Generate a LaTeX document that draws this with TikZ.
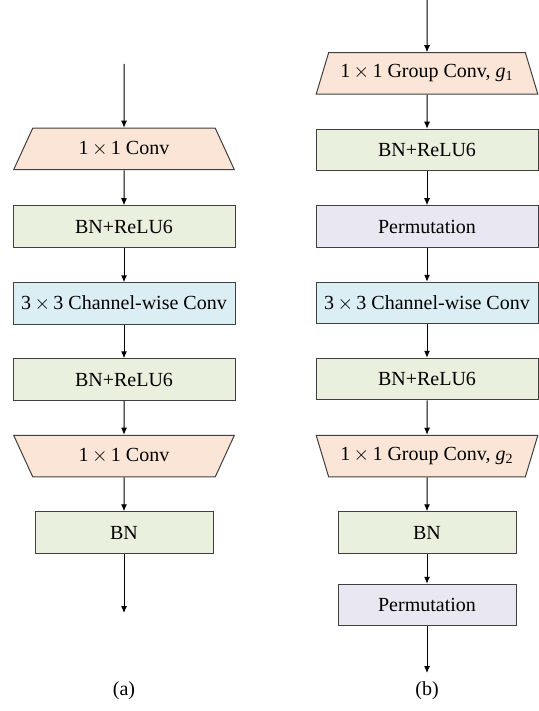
\documentclass[tikz,border=0pt]{standalone}
\usepackage{fontspec}
\setmainfont{Liberation Serif}
\usetikzlibrary{shapes.geometric,arrows.meta}

\definecolor{convc}{RGB}{251,229,214}
\definecolor{bnc}{RGB}{233,240,221}
\definecolor{dwc}{RGB}{218,238,243}
\definecolor{permc}{RGB}{233,231,241}
\newcommand{\tms}{\,$\times$\,}

\begin{document}
\begin{tikzpicture}
[
  x=0.5pt, y=-0.5pt,
  blk/.style={draw=black!75, line width=0.5pt, minimum width=111pt, minimum height=20.75pt, inner sep=1pt},
  conv/.style={blk, trapezium, trapezium left angle=62.4, trapezium right angle=62.4, trapezium stretches=true, fill=convc},
  convi/.style={blk, trapezium, trapezium left angle=117.6, trapezium right angle=117.6, trapezium stretches=true, fill=convc},
  bnr/.style={blk, fill=bnc},
  bn/.style={blk, fill=bnc, minimum width=89pt},
  dw/.style={blk, fill=dwc},
  perm/.style={blk, fill=permc},
  permn/.style={perm, minimum width=89pt},
  flow/.style={-{Latex[length=3.5pt,width=3pt]}, line width=0.5pt}
]
\useasboundingbox (0,0) rectangle (539,711);

% (a)
\coordinate (ain) at (124,64);
\node[conv] (a1) at (124,149) {1\tms1 Conv};
\node[bnr] (a2) at (124,226.5) {BN+ReLU6};
\node[dw] (a3) at (124,303.5) {3\tms3 Channel-wise Conv};
\node[bnr] (a4) at (124,379.5) {BN+ReLU6};
\node[convi] (a5) at (124,456) {1\tms1 Conv};
\node[bn] (a6) at (124,532.5) {BN};
\coordinate (aout) at (124,613);
\node (capa) at (124,691) {(a)};

% (b)
\coordinate (bin) at (427,0);
\node[conv] (b1) at (427,73.5) {1\tms1 Group Conv, \textit{g}\textsubscript{1}};
\node[bnr] (b2) at (427,150) {BN+ReLU6};
\node[perm] (b3) at (427,226.5) {Permutation};
\node[dw] (b4) at (427,303) {3\tms3 Channel-wise Conv};
\node[bnr] (b5) at (427,379) {BN+ReLU6};
\node[convi] (b6) at (427,456) {1\tms1 Group Conv, \textit{g}\textsubscript{2}};
\node[bn] (b7) at (427,532.5) {BN};
\node[permn] (b8) at (427,605) {Permutation};
\coordinate (bout) at (427,673);
\node (capb) at (427,691) {(b)};

\draw[flow] (ain) -- (a1);
\foreach \i/\j in {a1/a2,a2/a3,a3/a4,a4/a5,a5/a6}
  \draw[flow] (\i) -- (\j);
\draw[flow] (a6) -- (aout);

\draw[flow] (bin) -- (b1);
\foreach \i/\j in {b1/b2,b2/b3,b3/b4,b4/b5,b5/b6,b6/b7,b7/b8}
  \draw[flow] (\i) -- (\j);
\draw[flow] (b8) -- (bout);

\end{tikzpicture}
\end{document}
